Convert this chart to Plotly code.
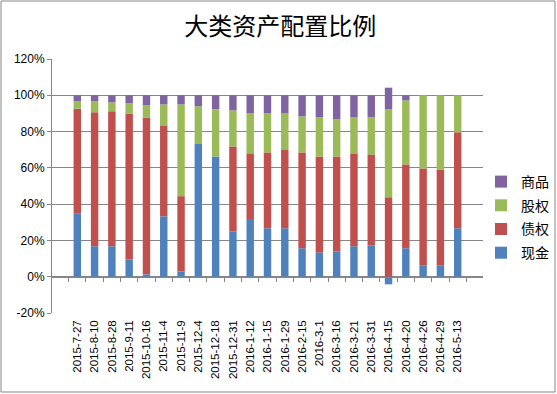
import plotly.graph_objects as go

dates = ["2015-7-27", "2015-8-10", "2015-8-28", "2015-9-11", "2015-10-16", "2015-11-4",
         "2015-11-9", "2015-12-4", "2015-12-18", "2015-12-31", "2016-1-12", "2016-1-15",
         "2016-1-29", "2016-2-15", "2016-3-1", "2016-3-16", "2016-3-21", "2016-3-31",
         "2016-4-15", "2016-4-20", "2016-4-26", "2016-4-29", "2016-5-13"]

cash = [35.0, 16.8, 16.8, 9.6, 1.3, 33.3, 2.9, 73.1, 66.3, 25.0, 31.3, 26.7,
        26.7, 15.7, 13.4, 14.0, 16.8, 17.3, -4.2, 15.7, 6.3, 6.3, 26.7]
bonds = [57.6, 73.8, 74.4, 80.4, 86.5, 50.1, 41.5, 0.0, 0.0, 46.8, 36.7, 41.8,
         43.5, 52.8, 52.9, 52.3, 51.2, 50.1, 43.8, 46.2, 53.4, 52.8, 52.9]
equity = [4.1, 6.1, 4.9, 5.6, 6.7, 11.6, 50.6, 20.8, 26.0, 19.9, 22.0, 21.5,
          19.8, 19.9, 21.5, 20.4, 19.8, 20.4, 48.5, 35.3, 40.3, 40.9, 20.4]
commod = [3.3, 3.3, 3.9, 4.4, 5.5, 5.0, 5.0, 6.1, 7.7, 8.3, 10.0, 10.0,
          10.0, 11.6, 12.2, 13.3, 12.2, 12.2, 11.9, 2.8, 0.0, 0.0, 0.0]

series = [("现金", cash, "#4F81BD", 4), ("债权", bonds, "#C0504D", 3),
          ("股权", equity, "#9BBB59", 2), ("商品", commod, "#8064A2", 1)]

yticks = [-20, 0, 20, 40, 60, 80, 100, 120]
ytick_text = ["-20%", "0%", "20%", "40%", "60%", "80%", "100%", "120%"]

fig = go.Figure()
for name, vals, col, rank in series:
    fig.add_trace(go.Bar(x=dates, y=vals, name=name, marker_color=col,
                         marker_line_width=0, legendgroup=name, legendrank=rank))

# helper invisible trace for the zero-line axis with boundary ticks
fig.add_trace(go.Scatter(x=dates, y=[0] * len(dates), xaxis="x2", mode="markers",
                         marker=dict(opacity=0), showlegend=False, hoverinfo="skip"))

L, R, T, B = 52, 74, 59, 81
W, H = 557, 394
pw, ph = W - L - R, H - T - B

fig.update_layout(
    width=W, height=H,
    margin=dict(l=L, r=R, t=T, b=B, pad=0, autoexpand=False),
    paper_bgcolor="white", plot_bgcolor="white",
    barmode="relative", bargap=0.57,
    title=dict(text="大类资产配置比例", x=0.503, xref="container", y=1 - 27 / H,
               yanchor="middle", xanchor="center",
               font=dict(family="Noto Sans CJK SC", size=24, color="black")),
    font=dict(family="Liberation Sans, Arial", color="black"),
    xaxis=dict(type="category", tickangle=-90, showgrid=False, showline=False,
               ticks="", tickfont=dict(size=11.5, color="black"), ticklabelstandoff=4),
    xaxis2=dict(type="category", overlaying="x", matches="x", anchor="free",
                position=20 / 140, showline=True, linecolor="#868686", linewidth=1,
                ticks="outside", ticklen=4, tickcolor="#868686", tickson="boundaries",
                showticklabels=False, showgrid=False),
    yaxis=dict(range=[-20, 120], tickvals=yticks, ticktext=ytick_text,
               showgrid=True, gridcolor="#868686", gridwidth=1, zeroline=False,
               showline=True, linecolor="#868686", ticks="outside", ticklen=4,
               tickcolor="#868686", tickfont=dict(size=12, color="black")),
    legend=dict(x=(481 - L) / pw, y=(T + ph - 166) / ph, xanchor="left", yanchor="top",
                traceorder="grouped", tracegroupgap=2.5,
                font=dict(family="Noto Sans CJK SC", size=14, color="black"),
                itemwidth=30, bgcolor="rgba(0,0,0,0)"),
    shapes=[dict(type="rect", xref="paper", yref="paper",
                 x0=(1 - L) / pw, x1=(W - 2 - L) / pw,
                 y0=(T + ph - (H - 2)) / ph, y1=(T + ph - 1) / ph,
                 line=dict(color="#868686", width=1))],
)

fig.write_html("out.html", config={"displayModeBar": False},
               post_script="document.body.style.margin='0px';")
